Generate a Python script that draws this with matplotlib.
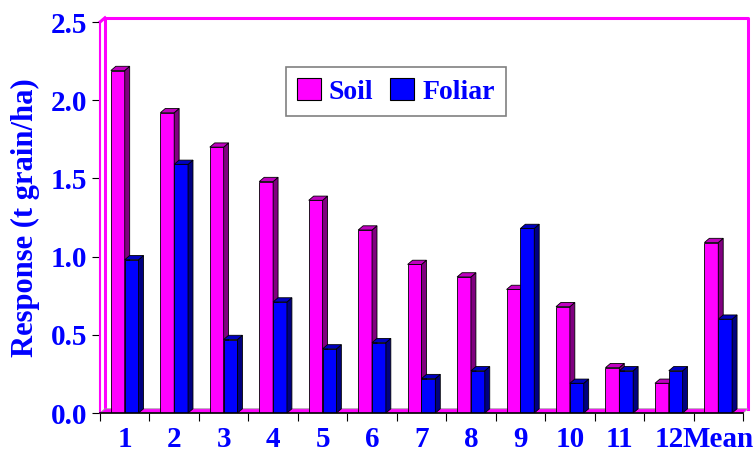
import matplotlib
matplotlib.use("Agg")
import matplotlib.pyplot as plt
from matplotlib.patches import Polygon, Rectangle

categories = ["1", "2", "3", "4", "5", "6", "7", "8", "9", "10", "11", "12", "Mean"]
soil = [2.19, 1.92, 1.70, 1.48, 1.36, 1.17, 0.95, 0.87, 0.79, 0.68, 0.29, 0.19, 1.09]
foliar = [0.98, 1.59, 0.47, 0.71, 0.41, 0.45, 0.22, 0.27, 1.18, 0.19, 0.27, 0.27, 0.60]

BLUE = "#0000FF"
MAGENTA = "#FF00FF"
FONT = "Liberation Serif"

fig = plt.figure(figsize=(7.53, 4.59), dpi=100)
ax = fig.add_axes([0.1328, 0.1002, 0.8539, 0.8518])
ax.set_xlim(0, 13)
ax.set_ylim(0, 2.5)

# depth of the pseudo-3D extrusion, in data units
dx, dy = 0.10, 0.027
width = 0.28


def bar3d(x0, h, front, side, top):
    ax.add_patch(Rectangle((x0, 0), width, h, facecolor=front, edgecolor="black",
                           lw=0.6, zorder=3))
    ax.add_patch(Polygon([(x0 + width, 0), (x0 + width + dx, dy),
                          (x0 + width + dx, h + dy), (x0 + width, h)],
                         closed=True, facecolor=side, edgecolor="black", lw=0.6, zorder=3))
    ax.add_patch(Polygon([(x0, h), (x0 + dx, h + dy), (x0 + width + dx, h + dy),
                          (x0 + width, h)],
                         closed=True, facecolor=top, edgecolor="black", lw=0.6, zorder=3))


# back wall and floor
wall = dict(color=MAGENTA, lw=2.2, clip_on=False, zorder=1)
ax.plot([dx, dx, 13 + dx, 13 + dx], [dy, 2.5 + dy, 2.5 + dy, dy], **wall)
ax.plot([0, dx], [2.5, 2.5 + dy], **wall)
ax.add_patch(Polygon([(0, 0), (13, 0), (13 + dx, dy), (dx, dy)], closed=True,
                     facecolor=MAGENTA, edgecolor="#A0A0A0", lw=0.6, zorder=2,
                     clip_on=False))

for i in range(len(categories)):
    bar3d(i + 0.22, soil[i], MAGENTA, "#800080", "#C000C0")
    bar3d(i + 0.22 + width, foliar[i], BLUE, "#000080", "#0000C0")

for s in ("top", "right"):
    ax.spines[s].set_visible(False)
ax.spines["left"].set_color(MAGENTA)
ax.spines["left"].set_linewidth(1.5)
ax.spines["bottom"].set_color("black")
ax.spines["bottom"].set_linewidth(1.2)
for sp in ax.spines.values():
    sp.set_zorder(5)

ax.set_yticks([0, 0.5, 1.0, 1.5, 2.0, 2.5])
ax.set_yticklabels(["0.0", "0.5", "1.0", "1.5", "2.0", "2.5"])
ax.set_xticks(range(14))
ax.set_xticklabels([])
ax.set_xticks([i + 0.5 for i in range(13)], minor=True)
ax.set_xticklabels(categories, minor=True)
ax.tick_params(axis="x", which="major", length=6, color="black", direction="out")
ax.tick_params(axis="x", which="minor", length=0, pad=9)
ax.tick_params(axis="y", length=6, color="black", direction="out", pad=3)
for lab in ax.get_xticklabels(minor=True) + ax.get_yticklabels():
    lab.set_fontfamily(FONT)
    lab.set_fontweight("bold")
    lab.set_fontsize(21)
    lab.set_color(BLUE)

ax.set_ylabel("Response (t grain/ha)", fontfamily=FONT, fontweight="bold",
              fontsize=22, color=BLUE, labelpad=8)

leg_handles = [Rectangle((0, 0), 1, 1, facecolor=MAGENTA, edgecolor="black", lw=0.8),
               Rectangle((0, 0), 1, 1, facecolor=BLUE, edgecolor="black", lw=0.8)]
leg = ax.legend(leg_handles, ["Soil", "Foliar"], loc="upper left",
                bbox_to_anchor=(0.289, 0.885), ncol=2, frameon=True, fancybox=False,
                prop={"family": FONT, "weight": "bold", "size": 20},
                handlelength=0.85, handleheight=0.85, handletextpad=0.3,
                columnspacing=0.6, borderpad=0.4, borderaxespad=0)
leg.get_frame().set_edgecolor("#606060")
leg.get_frame().set_linewidth(1.2)
for t in leg.get_texts():
    t.set_color(BLUE)

fig.savefig("out.png", dpi=100)
